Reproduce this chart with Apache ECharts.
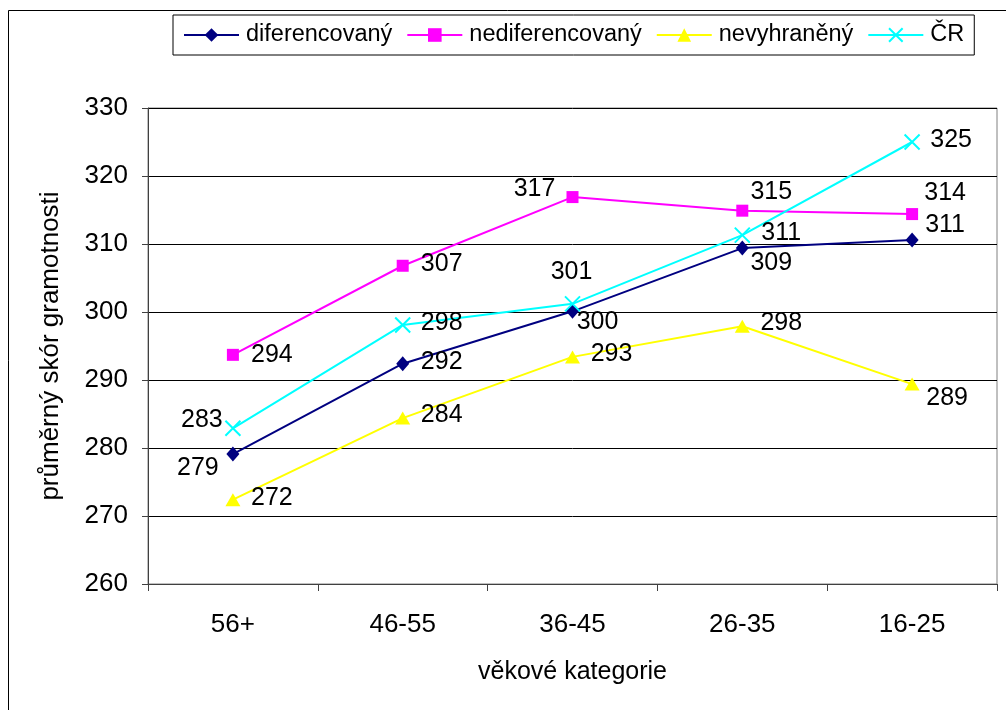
<!DOCTYPE html>
<html>
<head>
<meta charset="utf-8">
<script src="https://cdn.jsdelivr.net/npm/echarts@6/dist/echarts.min.js"></script>
<style>
html,body{margin:0;padding:0;background:#fff;}
#c{width:1006px;height:710px;}
</style>
</head>
<body>
<div id="c"></div>
<script>
const categories = ['56+', '46-55', '36-45', '26-35', '16-25'];
const seriesNames = ['diferencovaný', 'nediferencovaný', 'nevyhraněný', 'ČR'];
const diferencovany = [279.1, 292.4, 300.1, 309.4, 310.6];
const nediferencovany = [293.7, 306.8, 316.9, 314.9, 314.4];
const nevyhraneny = [272.4, 284.4, 293.4, 297.9, 289.4];
const cr = [282.9, 298.1, 301.2, 311.3, 325.0];
const yTicks = [260, 270, 280, 290, 300, 310, 320, 330];

// label offsets (style only): [dx, dy] from the marker centre
const labelOffsets = [
  [[-35, 14], [39, -2], [25, 11], [29, 15], [33, -15]],
  [[39, 0], [39, -2], [-38, -8], [29, -19], [33, -21]],
  [[39, -2], [39, -3], [39, -3], [39, -3], [35, 14]],
  [[-31, -8], [39, -2], [-1, -32], [39, -2], [39, -2]]
];
const colors = ['#000080', '#FF00FF', '#FFFF00', '#00FFFF'];
const symbols = ['diamond', 'rect', 'triangle', 'path://M0,0L10,10M10,0L0,10'];
const symbolSizes = [[13, 15], 12, [15, 13], 15];
const values = [diferencovany, nediferencovany, nevyhraneny, cr];

const FONT = '"Liberation Sans", Arial, sans-serif';

const chart = echarts.init(document.getElementById('c'), null, {renderer: 'canvas'});

const series = seriesNames.map((name, si) => ({
  name: name,
  type: 'line',
  data: values[si].map((v, i) => ({
    value: v,
    label: {offset: labelOffsets[si][i]}
  })),
  symbol: symbols[si],
  symbolSize: symbolSizes[si],
  showAllSymbol: true,
  lineStyle: {color: colors[si], width: 2},
  itemStyle: si === 3
    ? {color: colors[si], borderColor: colors[si], borderWidth: 2}
    : {color: colors[si], borderWidth: 0},
  emphasis: {disabled: true},
  animation: false,
  z: 3,
  label: {
    show: true,
    position: 'inside',
    align: 'center',
    verticalAlign: 'middle',
    color: '#000',
    fontSize: 25,
    fontFamily: FONT,
    formatter: p => String(Math.round(p.value))
  }
}));

chart.setOption({
  animation: false,
  backgroundColor: '#fff',
  textStyle: {fontFamily: FONT},
  graphic: [{
    type: 'rect',
    shape: {x: 8.5, y: 10.5, width: 1100, height: 800},
    style: {fill: 'none', stroke: '#000', lineWidth: 1},
    silent: true,
    z: -10
  }],
  legend: {
    left: 173,
    top: 15,
    padding: [8, 10, 8, 10],
    itemGap: 14,
    itemWidth: 55,
    itemHeight: 17,
    borderColor: '#000',
    borderWidth: 1,
    backgroundColor: '#fff',
    textStyle: {fontSize: 23.5, color: '#000', fontFamily: FONT, padding: [0, 0, 0, 2]},
    data: seriesNames
  },
  grid: {
    left: 148, right: 9, top: 108, bottom: 126,
    show: true,
    borderColor: '#808080',
    borderWidth: 1,
    containLabel: false
  },
  xAxis: {
    type: 'category',
    data: categories,
    boundaryGap: true,
    name: 'věkové kategorie',
    nameLocation: 'middle',
    nameGap: 76,
    nameTextStyle: {fontSize: 25, color: '#000', fontFamily: FONT},
    axisLine: {lineStyle: {color: '#404040', width: 1}},
    axisTick: {show: true, inside: false, length: 7, alignWithLabel: false, lineStyle: {color: '#404040'}},
    axisLabel: {fontSize: 26, color: '#000', margin: 28, fontFamily: FONT},
    splitLine: {show: false}
  },
  yAxis: {
    type: 'value',
    min: yTicks[0],
    max: yTicks[yTicks.length - 1],
    interval: 10,
    name: 'průměrný skór gramotnosti',
    nameLocation: 'middle',
    nameGap: 84,
    nameRotate: 90,
    nameTextStyle: {fontSize: 26, color: '#000', fontFamily: FONT},
    axisLine: {show: true, lineStyle: {color: '#404040', width: 1}},
    axisTick: {show: true, inside: false, length: 6, lineStyle: {color: '#404040'}},
    axisLabel: {fontSize: 26, color: '#000', margin: 20, fontFamily: FONT},
    splitLine: {show: true, lineStyle: {color: '#000', width: 1}}
  },
  series: series
});
</script>
</body>
</html>
